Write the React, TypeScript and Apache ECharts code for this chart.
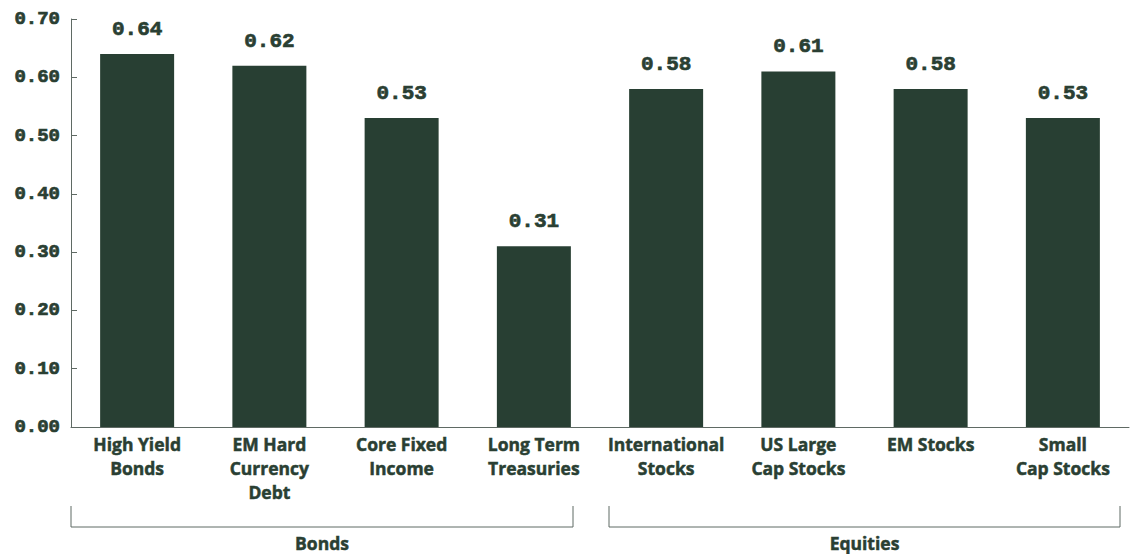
import React, { useEffect, useRef } from "react";
import * as echarts from "echarts";

const categories = [
  "High Yield\nBonds",
  "EM Hard\nCurrency\nDebt",
  "Core Fixed\nIncome",
  "Long Term\nTreasuries",
  "International\nStocks",
  "US Large\nCap Stocks",
  "EM Stocks",
  "Small\nCap Stocks",
];
const values = [0.64, 0.62, 0.53, 0.31, 0.58, 0.61, 0.58, 0.53];
const groupNames = ["Bonds", "Equities"];

const DARK = "#283f33";
const TEXT = "#2a3f33";
const AXIS = "#5f6a64";
const MONO = "'Liberation Mono', 'DejaVu Sans Mono', monospace";
const SANS = "'Open Sans', Inter, 'Liberation Sans', sans-serif";

export default function App() {
  const ref = useRef<HTMLDivElement>(null);

  useEffect(() => {
    document.body.style.margin = "0";
    if (!ref.current) return;
    const chart = echarts.init(ref.current, null, { renderer: "svg" });

    const bracket = (x1: number, x2: number, label: string) => ({
      type: "group",
      children: [
        {
          type: "polyline",
          shape: { points: [[x1, 506], [x1, 527], [x2, 527], [x2, 506]] },
          style: { stroke: AXIS, lineWidth: 1, fill: "none" },
        },
        {
          type: "text",
          x: (x1 + x2) / 2,
          y: 543,
          style: {
            text: label,
            fill: TEXT,
            font: `bold 17.5px ${SANS}`,
            stroke: TEXT,
            lineWidth: 0.5,
            align: "center",
            verticalAlign: "middle",
          },
        },
      ],
    });

    chart.setOption({
      animation: false,
      grid: { left: 71, right: 2, top: 19, bottom: 127, outerBoundsMode: "none" },
      xAxis: {
        type: "category",
        data: categories,
        axisLine: { show: true, lineStyle: { color: AXIS, width: 1 } },
        axisTick: { show: false },
        axisLabel: {
          interval: 0,
          margin: 5,
          color: TEXT,
          fontFamily: SANS,
          fontWeight: "bold",
          fontSize: 17.5,
          lineHeight: 24,
          textBorderColor: TEXT,
          textBorderWidth: 0.5,
        },
      },
      yAxis: {
        type: "value",
        min: 0,
        max: 0.7,
        interval: 0.1,
        splitLine: { show: false },
        axisLine: { show: true, lineStyle: { color: AXIS, width: 1 } },
        axisTick: { show: true, inside: true, length: 6, lineStyle: { color: AXIS } },
        axisLabel: {
          margin: 11,
          color: TEXT,
          fontFamily: MONO,
          fontWeight: "bold",
          fontSize: 19,
          textBorderColor: TEXT,
          textBorderWidth: 0.7,
          formatter: (v: number) => v.toFixed(2),
        },
      },
      series: [
        {
          type: "bar",
          data: values,
          barWidth: 74,
          itemStyle: { color: DARK },
          label: {
            show: true,
            position: "top",
            distance: 14,
            color: TEXT,
            fontFamily: MONO,
            fontWeight: "bold",
            fontSize: 21,
            textBorderColor: TEXT,
            textBorderWidth: 0.7,
            formatter: (p: any) => Number(p.value).toFixed(2),
          },
        },
      ],
      graphic: [bracket(71, 573, groupNames[0]), bracket(609, 1120, groupNames[1])],
    });

    return () => chart.dispose();
  }, []);

  return <div ref={ref} style={{ width: 1131, height: 554 }} />;
}
